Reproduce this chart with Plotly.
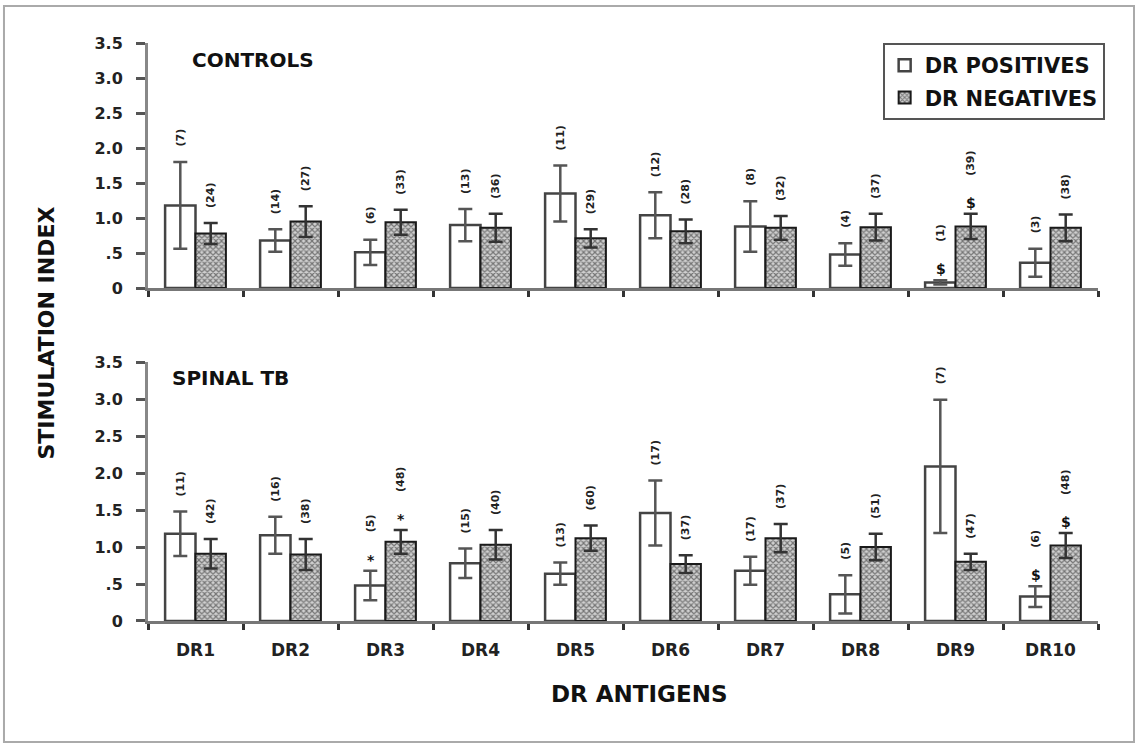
import plotly.graph_objects as go
from plotly.subplots import make_subplots

# ---------------- data ----------------
categories = ["DR1", "DR2", "DR3", "DR4", "DR5", "DR6", "DR7", "DR8", "DR9", "DR10"]

ctrl_pos = [1.18, 0.68, 0.51, 0.90, 1.35, 1.04, 0.88, 0.48, 0.08, 0.36]
ctrl_pos_err = [0.62, 0.16, 0.18, 0.23, 0.40, 0.33, 0.36, 0.16, 0.03, 0.20]
ctrl_neg = [0.78, 0.95, 0.94, 0.86, 0.71, 0.81, 0.86, 0.87, 0.88, 0.86]
ctrl_neg_err = [0.15, 0.22, 0.18, 0.20, 0.13, 0.17, 0.17, 0.19, 0.18, 0.19]
ctrl_pos_n = ["(7)", "(14)", "(6)", "(13)", "(11)", "(12)", "(8)", "(4)", "(1)", "(3)"]
ctrl_neg_n = ["(24)", "(27)", "(33)", "(36)", "(29)", "(28)", "(32)", "(37)", "(39)", "(38)"]
ctrl_pos_mark = ["", "", "", "", "", "", "", "", "$", ""]
ctrl_neg_mark = ["", "", "", "", "", "", "", "", "$", ""]

tb_pos = [1.18, 1.16, 0.48, 0.78, 0.64, 1.46, 0.68, 0.36, 2.09, 0.33]
tb_pos_err = [0.30, 0.25, 0.20, 0.20, 0.15, 0.44, 0.19, 0.26, 0.90, 0.14]
tb_neg = [0.91, 0.90, 1.07, 1.03, 1.12, 0.77, 1.12, 1.00, 0.80, 1.02]
tb_neg_err = [0.20, 0.21, 0.16, 0.20, 0.17, 0.12, 0.19, 0.18, 0.11, 0.17]
tb_pos_n = ["(11)", "(16)", "(5)", "(15)", "(13)", "(17)", "(17)", "(5)", "(7)", "(6)"]
tb_neg_n = ["(42)", "(38)", "(48)", "(40)", "(60)", "(37)", "(37)", "(51)", "(47)", "(48)"]
tb_pos_mark = ["", "", "*", "", "", "", "", "", "", "$"]
tb_neg_mark = ["", "", "*", "", "", "", "", "", "", "$"]

y_tickvals = [0, 0.5, 1.0, 1.5, 2.0, 2.5, 3.0, 3.5]
y_ticktext = ["0", ".5", "1.0", "1.5", "2.0", "2.5", "3.0", "3.5"]

panel_titles = ["CONTROLS", "SPINAL TB"]
series_names = ["DR POSITIVES", "DR NEGATIVES"]

# ---------------- figure ----------------
FONT = "DejaVu Sans"
fig = make_subplots(rows=2, cols=1)

panels = [
    (1, ctrl_pos, ctrl_pos_err, ctrl_neg, ctrl_neg_err, ctrl_pos_n, ctrl_neg_n, ctrl_pos_mark, ctrl_neg_mark),
    (2, tb_pos, tb_pos_err, tb_neg, tb_neg_err, tb_pos_n, tb_neg_n, tb_pos_mark, tb_neg_mark),
]

annotations = []
for row, pos, pos_err, neg, neg_err, pos_n, neg_n, pos_mark, neg_mark in panels:
    fig.add_trace(go.Bar(
        x=categories, y=pos, name=series_names[0], legendgroup="pos",
        showlegend=(row == 1),
        marker=dict(color="white", line=dict(color="#444", width=2.5)),
        error_y=dict(type="data", array=pos_err, color="#555", thickness=2.5, width=7),
    ), row=row, col=1)
    fig.add_trace(go.Bar(
        x=categories, y=neg, name=series_names[1], legendgroup="neg",
        showlegend=(row == 1),
        marker=dict(color="#b0b0b0", line=dict(color="#1a1a1a", width=2),
                    pattern=dict(shape="x", size=4, solidity=0.5, fgcolor="#1a1a1a", bgcolor="#d0d0d0")),
        error_y=dict(type="data", array=neg_err, color="#333", thickness=2.5, width=7),
    ), row=row, col=1)

    xr = "x" if row == 1 else "x2"
    yr = "y" if row == 1 else "y2"
    for vals, errs, labels, marks, xs in [(pos, pos_err, pos_n, pos_mark, -15), (neg, neg_err, neg_n, neg_mark, 15)]:
        for c, v, e, lab, mk in zip(categories, vals, errs, labels, marks):
            top = v + e
            if mk:
                annotations.append(dict(
                    x=c, y=top, xref=xr, yref=yr, xshift=xs, yshift=1,
                    text=mk, showarrow=False, yanchor="bottom",
                    font=dict(family=FONT, size=14, color="#111", weight="bold")))
                ys = 36
            else:
                ys = 13
            annotations.append(dict(
                x=c, y=top, xref=xr, yref=yr, xshift=xs, yshift=ys,
                text=lab, showarrow=False, yanchor="bottom", textangle=-90,
                font=dict(family=FONT, size=11, color="#222", weight="bold")))

# panel titles
annotations.append(dict(x=0.044, y=0.9706, xref="paper", yref="paper", text=panel_titles[0],
                        showarrow=False, xanchor="left", yanchor="middle",
                        font=dict(family=FONT, size=20, color="#111", weight="bold")))
annotations.append(dict(x=0.023, y=0.420, xref="paper", yref="paper", text=panel_titles[1],
                        showarrow=False, xanchor="left", yanchor="middle",
                        font=dict(family=FONT, size=20, color="#111", weight="bold")))
# axis titles
annotations.append(dict(x=-0.107, y=0.498, xref="paper", yref="paper", text="STIMULATION INDEX",
                        showarrow=False, textangle=-90, xanchor="center", yanchor="middle",
                        font=dict(family=FONT, size=22, color="#111", weight="bold")))
annotations.append(dict(x=0.517, y=-0.126, xref="paper", yref="paper", text="DR ANTIGENS",
                        showarrow=False, xanchor="center", yanchor="middle",
                        font=dict(family=FONT, size=23, color="#111", weight="bold")))

xaxis_common = dict(showline=True, linecolor="#777", linewidth=3, ticks="outside",
                    tickson="boundaries", ticklen=6, tickwidth=3, tickcolor="#333",
                    showgrid=False, zeroline=False, domain=[0, 1])
yaxis_common = dict(range=[0, 3.5], tickmode="array", tickvals=y_tickvals, ticktext=y_ticktext,
                    showline=True, linecolor="#888", linewidth=3, ticks="outside", ticklen=9,
                    tickwidth=2.5, tickcolor="#555", showgrid=False, zeroline=False,
                    ticklabelstandoff=10,
                    tickfont=dict(family=FONT, size=16, color="#222", weight="bold"))

fig.update_layout(
    width=1141, height=749,
    margin=dict(l=148, r=43, t=43, b=128, autoexpand=False),
    paper_bgcolor="white", plot_bgcolor="white",
    barmode="group", bargap=0.36, bargroupgap=0.0,
    xaxis=dict(**xaxis_common, showticklabels=False),
    xaxis2=dict(**xaxis_common, showticklabels=True, ticklabelstandoff=12,
                tickfont=dict(family=FONT, size=17, color="#222", weight="bold")),
    yaxis=dict(**yaxis_common, domain=[0.576, 1.0]),
    yaxis2=dict(**yaxis_common, domain=[0.0, 0.448]),
    legend=dict(x=1.007, y=1.0, xanchor="right", yanchor="top",
                bgcolor="white", bordercolor="#555", borderwidth=2,
                font=dict(family=FONT, size=21, color="#111", weight="bold"),
                itemwidth=30, tracegroupgap=2),
    annotations=annotations,
    shapes=[dict(type="rect", xref="paper", yref="paper",
                 x0=-0.1516, x1=1.0379, y0=-0.2093, y1=1.064,
                 line=dict(color="#aaa", width=2))],
    showlegend=True,
)

fig.write_html("out.html", config={"displayModeBar": False},
               post_script="document.body.style.margin='0px';document.body.style.padding='0px';")
